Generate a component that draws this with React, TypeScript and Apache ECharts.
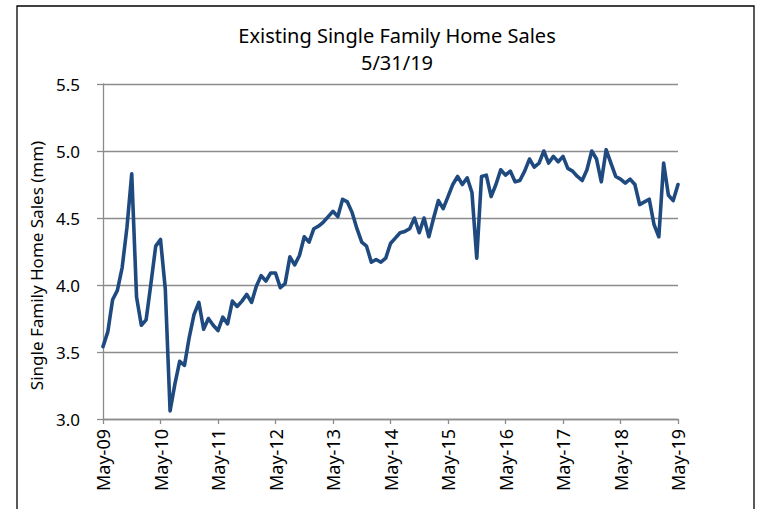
import React, { useEffect, useRef } from "react";
import * as echarts from "echarts";

const titleLines = ["Existing Single Family Home Sales", "5/31/19"];
const yAxisName = "Single Family Home Sales (mm)";
const xTickLabels = ["May-09", "May-10", "May-11", "May-12", "May-13", "May-14", "May-15", "May-16", "May-17", "May-18", "May-19"];
const yTicks = [3.0, 3.5, 4.0, 4.5, 5.0, 5.5];

// Monthly values, May-09 .. May-19 (millions)
const sales = [
  3.54, 3.65, 3.89, 3.96, 4.13, 4.43, 4.83, 3.91, 3.70, 3.74, 4.01, 4.29,
  4.34, 3.97, 3.06, 3.26, 3.43, 3.40, 3.61, 3.78, 3.87, 3.67, 3.75, 3.70,
  3.66, 3.76, 3.71, 3.88, 3.84, 3.88, 3.93, 3.87, 3.99, 4.07, 4.03, 4.09,
  4.09, 3.98, 4.01, 4.21, 4.15, 4.22, 4.36, 4.32, 4.42, 4.44, 4.47, 4.51,
  4.55, 4.51, 4.64, 4.62, 4.54, 4.42, 4.32, 4.29, 4.17, 4.19, 4.17, 4.20,
  4.31, 4.35, 4.39, 4.40, 4.42, 4.50, 4.39, 4.50, 4.36, 4.50, 4.63, 4.57,
  4.66, 4.75, 4.81, 4.75, 4.80, 4.69, 4.20, 4.81, 4.82, 4.66, 4.75, 4.86,
  4.82, 4.85, 4.77, 4.78, 4.85, 4.94, 4.88, 4.91, 5.00, 4.91, 4.96, 4.92,
  4.96, 4.87, 4.85, 4.81, 4.78, 4.86, 5.00, 4.94, 4.77, 5.01, 4.91, 4.81,
  4.79, 4.76, 4.79, 4.75, 4.60, 4.62, 4.64, 4.45, 4.36, 4.91, 4.67, 4.63,
  4.75,
];

const FONT = "'Noto Sans', 'Open Sans', sans-serif";
const GRID_COLOR = "#8c8c8c";
const LINE_COLOR = "#1f4a7f";

export default function App() {
  const ref = useRef<HTMLDivElement>(null);

  useEffect(() => {
    if (!ref.current) return;
    const chart = echarts.init(ref.current, undefined, { renderer: "svg" });
    const monthsPerTick = 12;
    chart.setOption({
      animation: false,
      backgroundColor: "#ffffff",
      title: {
        text: titleLines.join("\n"),
        left: 392,
        top: 17,
        textAlign: "center",
        textStyle: {
          fontFamily: FONT,
          fontSize: 20,
          fontWeight: "normal",
          color: "#000000",
          lineHeight: 27,
        },
      },
      graphic: [
        {
          type: "rect",
          shape: { x: 17, y: 6, width: 737, height: 530 },
          style: { fill: "none", stroke: "#000000", lineWidth: 1.3 },
          silent: true,
        },
      ],
      grid: { left: 103, right: 82, top: 84, bottom: 90, containLabel: false },
      xAxis: {
        type: "value",
        min: 0,
        max: (xTickLabels.length - 1) * monthsPerTick,
        interval: monthsPerTick,
        axisLine: { show: true, lineStyle: { color: GRID_COLOR, width: 1.3 } },
        axisTick: { show: true, length: 5, lineStyle: { color: GRID_COLOR, width: 1.3 } },
        splitLine: { show: false },
        axisLabel: {
          rotate: 90,
          margin: 10,
          fontFamily: FONT,
          fontSize: 18,
          color: "#000000",
          padding: [8, 0, 0, 0],
          formatter: (v: number) => xTickLabels[Math.round(v / monthsPerTick)] ?? "",
        },
      },
      yAxis: {
        type: "value",
        min: yTicks[0],
        max: yTicks[yTicks.length - 1],
        interval: 0.5,
        name: yAxisName,
        nameLocation: "middle",
        nameRotate: 90,
        nameGap: 55,
        nameTextStyle: { fontFamily: FONT, fontSize: 17, color: "#000000", padding: [0, 28, 0, 0] },
        axisLine: { show: true, lineStyle: { color: GRID_COLOR, width: 1.3 } },
        axisTick: { show: true, length: 6, lineStyle: { color: GRID_COLOR, width: 1.3 } },
        splitLine: { show: true, lineStyle: { color: GRID_COLOR, width: 1.3 } },
        axisLabel: {
          margin: 23,
          fontFamily: FONT,
          fontSize: 17,
          color: "#000000",
          formatter: (v: number) => v.toFixed(1),
        },
      },
      series: [
        {
          type: "line",
          data: sales.map((v, i) => [i, v]),
          showSymbol: false,
          symbol: "none",
          clip: true,
          lineStyle: { color: LINE_COLOR, width: 3.6, cap: "round", join: "round" },
        },
      ],
    });
    return () => chart.dispose();
  }, []);

  return (
    <div
      ref={ref}
      style={{ position: "fixed", left: 0, top: 0, width: 760, height: 509, background: "#fff" }}
    />
  );
}
